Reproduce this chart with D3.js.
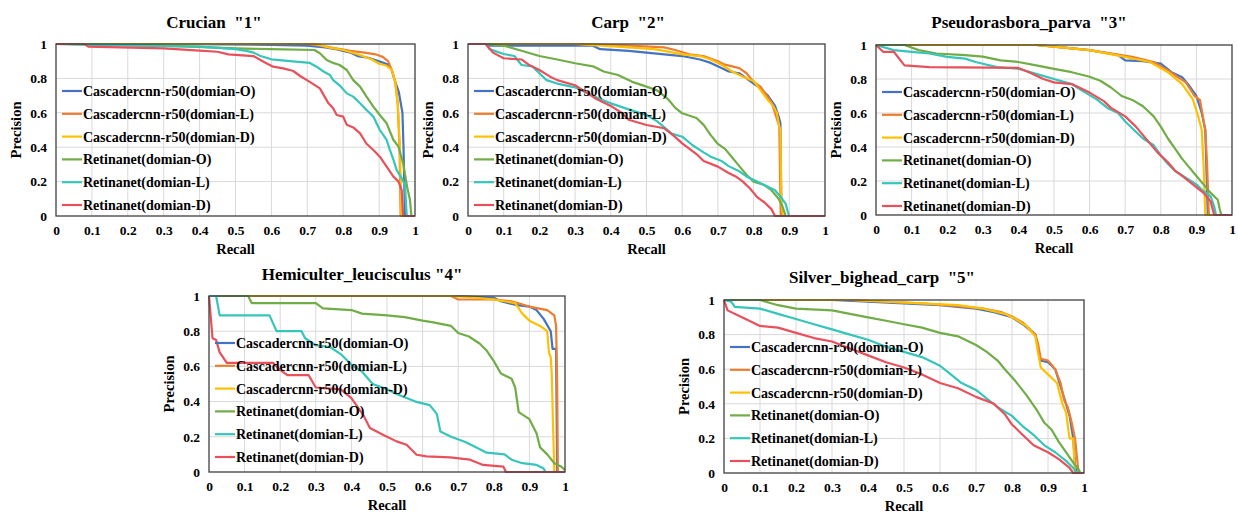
<!DOCTYPE html>
<html>
<head>
<meta charset="utf-8">
<script src="https://cdn.jsdelivr.net/npm/d3@7"></script>
<style>
  body { margin: 0; background: #fff; }
  svg text { font-family: "Liberation Serif", "Times New Roman", serif; font-weight: bold; fill: #000; white-space: pre; }
</style>
</head>
<body>
<div id="chart"></div>
<script>
// ---- data ----
const seriesNames = [
    "Cascadercnn-r50(domian-O)",
    "Cascadercnn-r50(domian-L)",
    "Cascadercnn-r50(domian-D)",
    "Retinanet(domian-O)",
    "Retinanet(domian-L)",
    "Retinanet(domian-D)"
];
const seriesColors = ["#4472c4", "#ed7d31", "#ffc000", "#70ad47", "#36c5b9", "#e8505b"];
const titles = ['Crucian  "1"', 'Carp  "2"', 'Pseudorasbora_parva  "3"', 'Hemiculter_leucisculus "4"', 'Silver_bighead_carp  "5"'];
const xTicks = [0, 0.1, 0.2, 0.3, 0.4, 0.5, 0.6, 0.7, 0.8, 0.9, 1];
const yTicks = [0, 0.2, 0.4, 0.6, 0.8, 1];

// panel 1 - Crucian
const p1_cascO = [[0,1],[0.3,1],[0.6,0.995],[0.7,0.99],[0.75,0.98],[0.78,0.97],[0.8,0.96],[0.82,0.95],[0.84,0.93],[0.87,0.92],[0.9,0.9],[0.925,0.88],[0.935,0.85],[0.945,0.78],[0.955,0.72],[0.965,0.6],[0.968,0.4],[0.972,0],[1,0]];
const p1_cascL = [[0,1],[0.7,1],[0.74,0.99],[0.78,0.975],[0.82,0.96],[0.86,0.95],[0.89,0.94],[0.91,0.925],[0.925,0.9],[0.935,0.85],[0.945,0.78],[0.952,0.65],[0.957,0.4],[0.96,0],[1,0]];
const p1_cascD = [[0,1],[0.72,1],[0.76,0.98],[0.8,0.965],[0.84,0.94],[0.88,0.91],[0.9,0.885],[0.92,0.875],[0.935,0.85],[0.945,0.78],[0.952,0.65],[0.958,0.4],[0.962,0],[1,0]];
const p1_retO = [[0,1],[0.3,0.99],[0.5,0.975],[0.6,0.97],[0.72,0.965],[0.735,0.946],[0.754,0.907],[0.772,0.89],[0.79,0.878],[0.81,0.849],[0.828,0.79],[0.847,0.752],[0.865,0.694],[0.884,0.636],[0.902,0.587],[0.921,0.539],[0.94,0.442],[0.954,0.403],[0.967,0.306],[0.978,0.17],[0.986,0.093],[0.99,0],[1,0]];
const p1_retL = [[0,1],[0.1,0.995],[0.4,0.985],[0.5,0.97],[0.53,0.96],[0.55,0.95],[0.57,0.93],[0.6,0.911],[0.652,0.9],[0.707,0.89],[0.726,0.868],[0.745,0.84],[0.763,0.82],[0.772,0.79],[0.79,0.76],[0.81,0.713],[0.828,0.694],[0.847,0.655],[0.865,0.616],[0.884,0.578],[0.902,0.5],[0.921,0.442],[0.93,0.384],[0.94,0.326],[0.949,0.267],[0.963,0.219],[0.972,0.18],[0.977,0],[1,0]];
const p1_retD = [[0,1],[0.08,1],[0.09,0.985],[0.3,0.975],[0.4,0.961],[0.45,0.955],[0.48,0.94],[0.55,0.93],[0.578,0.897],[0.605,0.868],[0.633,0.858],[0.661,0.843],[0.68,0.814],[0.707,0.78],[0.735,0.742],[0.759,0.655],[0.772,0.626],[0.782,0.587],[0.8,0.578],[0.81,0.53],[0.828,0.515],[0.847,0.48],[0.865,0.42],[0.884,0.384],[0.902,0.345],[0.921,0.287],[0.94,0.229],[0.954,0.2],[0.963,0.151],[0.967,0],[1,0]];

// panel 2 - Carp
const p2_cascO = [[0,1],[0.05,1],[0.06,0.99],[0.35,0.99],[0.37,0.97],[0.45,0.96],[0.5,0.95],[0.55,0.94],[0.6,0.93],[0.65,0.91],[0.68,0.89],[0.71,0.86],[0.73,0.84],[0.76,0.83],[0.78,0.8],[0.8,0.77],[0.82,0.74],[0.84,0.7],[0.86,0.64],[0.87,0.58],[0.875,0.54],[0.878,0],[1,0]];
const p2_cascL = [[0,1],[0.3,1],[0.45,0.99],[0.55,0.98],[0.58,0.965],[0.62,0.94],[0.66,0.93],[0.7,0.9],[0.72,0.88],[0.76,0.86],[0.78,0.83],[0.8,0.78],[0.82,0.75],[0.83,0.72],[0.85,0.66],[0.86,0.6],[0.872,0.52],[0.876,0],[1,0]];
const p2_cascD = [[0,1],[0.3,1],[0.45,0.98],[0.52,0.97],[0.55,0.96],[0.6,0.94],[0.65,0.93],[0.68,0.91],[0.71,0.88],[0.74,0.84],[0.77,0.81],[0.8,0.785],[0.82,0.73],[0.84,0.674],[0.855,0.64],[0.865,0.6],[0.872,0.52],[0.875,0.5],[0.878,0.08],[0.882,0],[1,0]];
const p2_retO = [[0,1],[0.05,1],[0.1,0.99],[0.15,0.961],[0.2,0.93],[0.25,0.91],[0.3,0.888],[0.35,0.87],[0.38,0.84],[0.42,0.82],[0.46,0.78],[0.5,0.752],[0.53,0.73],[0.56,0.68],[0.58,0.63],[0.6,0.597],[0.64,0.57],[0.66,0.53],[0.68,0.47],[0.7,0.419],[0.72,0.39],[0.74,0.34],[0.76,0.29],[0.78,0.24],[0.8,0.2],[0.83,0.18],[0.85,0.15],[0.87,0.1],[0.88,0.06],[0.89,0],[1,0]];
const p2_retL = [[0,1],[0.05,1],[0.06,0.97],[0.1,0.942],[0.13,0.93],[0.15,0.878],[0.18,0.87],[0.2,0.83],[0.22,0.79],[0.25,0.77],[0.3,0.748],[0.33,0.72],[0.37,0.68],[0.4,0.655],[0.45,0.62],[0.5,0.587],[0.53,0.55],[0.57,0.48],[0.6,0.461],[0.63,0.41],[0.66,0.37],[0.68,0.345],[0.71,0.32],[0.73,0.29],[0.76,0.26],[0.78,0.23],[0.81,0.2],[0.83,0.18],[0.86,0.15],[0.88,0.1],[0.89,0.07],[0.895,0.03],[0.9,0],[1,0]];
const p2_retD = [[0,1],[0.05,1],[0.07,0.95],[0.1,0.917],[0.15,0.91],[0.17,0.88],[0.2,0.849],[0.23,0.81],[0.25,0.79],[0.3,0.76],[0.33,0.72],[0.36,0.68],[0.4,0.64],[0.43,0.6],[0.45,0.56],[0.5,0.529],[0.55,0.51],[0.58,0.46],[0.6,0.422],[0.64,0.36],[0.66,0.32],[0.7,0.287],[0.73,0.25],[0.75,0.23],[0.77,0.2],[0.79,0.16],[0.81,0.11],[0.83,0.08],[0.85,0.04],[0.86,0],[1,0]];

// panel 3 - Pseudorasbora_parva
const p3_cascO = [[0,1],[0.45,1],[0.5,0.99],[0.6,0.97],[0.68,0.94],[0.7,0.91],[0.75,0.905],[0.8,0.89],[0.83,0.84],[0.86,0.81],[0.88,0.76],[0.9,0.7],[0.915,0.6],[0.925,0.5],[0.932,0],[1,0]];
const p3_cascL = [[0,1],[0.45,1],[0.5,0.99],[0.6,0.97],[0.72,0.93],[0.78,0.9],[0.82,0.85],[0.87,0.78],[0.895,0.7],[0.91,0.677],[0.925,0.5],[0.93,0.3],[0.935,0],[1,0]];
const p3_cascD = [[0,1],[0.45,1],[0.5,0.99],[0.6,0.97],[0.7,0.93],[0.77,0.9],[0.82,0.84],[0.86,0.77],[0.89,0.68],[0.905,0.58],[0.915,0.5],[0.92,0.3],[0.925,0],[1,0]];
const p3_retO = [[0,1],[0.08,1],[0.12,0.97],[0.17,0.95],[0.25,0.94],[0.3,0.932],[0.35,0.91],[0.4,0.9],[0.45,0.88],[0.5,0.86],[0.55,0.84],[0.6,0.813],[0.63,0.79],[0.66,0.75],[0.69,0.7],[0.72,0.677],[0.75,0.64],[0.78,0.58],[0.8,0.52],[0.82,0.45],[0.84,0.39],[0.86,0.33],[0.88,0.28],[0.9,0.229],[0.92,0.18],[0.94,0.13],[0.96,0.09],[0.965,0.04],[0.97,0],[1,0]];
const p3_retL = [[0,1],[0.05,0.97],[0.1,0.96],[0.15,0.95],[0.2,0.93],[0.25,0.92],[0.28,0.9],[0.3,0.89],[0.34,0.87],[0.4,0.86],[0.45,0.83],[0.5,0.8],[0.55,0.77],[0.58,0.73],[0.62,0.68],[0.65,0.63],[0.68,0.6],[0.7,0.55],[0.73,0.49],[0.75,0.45],[0.78,0.41],[0.8,0.35],[0.82,0.3],[0.84,0.26],[0.87,0.22],[0.9,0.18],[0.92,0.14],[0.94,0.11],[0.95,0.05],[0.955,0],[1,0]];
const p3_retD = [[0,1],[0.02,0.96],[0.05,0.96],[0.08,0.88],[0.15,0.87],[0.4,0.865],[0.43,0.84],[0.47,0.8],[0.5,0.78],[0.55,0.77],[0.6,0.72],[0.64,0.67],[0.66,0.63],[0.7,0.58],[0.73,0.52],[0.75,0.47],[0.77,0.42],[0.79,0.37],[0.82,0.31],[0.84,0.26],[0.86,0.23],[0.89,0.18],[0.92,0.13],[0.94,0.08],[0.95,0],[1,0]];

// panel 4 - Hemiculter_leucisculus
const p4_cascO = [[0,1],[0.7,1],[0.8,0.99],[0.82,0.97],[0.86,0.95],[0.9,0.94],[0.92,0.92],[0.94,0.87],[0.96,0.8],[0.965,0.7],[0.975,0.7],[0.978,0],[1,0]];
const p4_cascL = [[0,1],[0.68,1],[0.7,0.98],[0.8,0.98],[0.85,0.97],[0.9,0.94],[0.95,0.92],[0.97,0.89],[0.975,0.83],[0.978,0.5],[0.98,0],[1,0]];
const p4_cascD = [[0,1],[0.68,1],[0.75,0.99],[0.8,0.98],[0.86,0.96],[0.88,0.9],[0.9,0.86],[0.93,0.83],[0.95,0.8],[0.955,0.68],[0.96,0.65],[0.963,0.55],[0.966,0.3],[0.97,0],[1,0]];
const p4_retO = [[0,1],[0.11,1],[0.12,0.96],[0.3,0.96],[0.32,0.93],[0.4,0.92],[0.43,0.9],[0.5,0.89],[0.55,0.88],[0.6,0.86],[0.63,0.85],[0.68,0.83],[0.7,0.79],[0.73,0.77],[0.76,0.73],[0.78,0.69],[0.8,0.63],[0.82,0.56],[0.85,0.53],[0.86,0.48],[0.87,0.34],[0.9,0.3],[0.92,0.22],[0.93,0.14],[0.95,0.1],[0.97,0.05],[0.99,0.03],[1,0.01]];
const p4_retL = [[0,1],[0.02,1],[0.03,0.89],[0.17,0.89],[0.19,0.8],[0.26,0.8],[0.27,0.76],[0.3,0.72],[0.34,0.71],[0.37,0.67],[0.4,0.61],[0.43,0.57],[0.46,0.5],[0.5,0.47],[0.53,0.44],[0.58,0.4],[0.62,0.38],[0.64,0.33],[0.65,0.23],[0.68,0.2],[0.72,0.17],[0.75,0.14],[0.78,0.11],[0.83,0.1],[0.85,0.07],[0.88,0.05],[0.92,0.04],[0.94,0.02],[0.945,0],[1,0]];
const p4_retD = [[0,1],[0.01,0.76],[0.02,0.75],[0.03,0.68],[0.05,0.62],[0.18,0.62],[0.2,0.58],[0.22,0.55],[0.28,0.55],[0.3,0.48],[0.37,0.47],[0.4,0.42],[0.433,0.325],[0.452,0.25],[0.49,0.21],[0.527,0.174],[0.555,0.155],[0.583,0.098],[0.611,0.089],[0.677,0.083],[0.733,0.07],[0.77,0.04],[0.827,0.03],[0.834,0],[1,0]];

// panel 5 - Silver_bighead_carp
const p5_cascO = [[0,1],[0.3,1],[0.4,0.99],[0.5,0.98],[0.6,0.97],[0.7,0.95],[0.75,0.93],[0.8,0.9],[0.83,0.86],[0.865,0.8],[0.87,0.75],[0.878,0.65],[0.9,0.64],[0.92,0.6],[0.935,0.5],[0.95,0.4],[0.96,0.33],[0.97,0.2],[0.975,0.05],[0.98,0],[1,0]];
const p5_cascL = [[0,1],[0.35,1],[0.45,0.99],[0.55,0.98],[0.65,0.965],[0.72,0.95],[0.77,0.93],[0.8,0.905],[0.83,0.87],[0.865,0.8],[0.872,0.75],[0.88,0.66],[0.9,0.65],[0.92,0.6],[0.935,0.52],[0.945,0.42],[0.955,0.38],[0.965,0.3],[0.975,0.2],[0.985,0],[1,0]];
const p5_cascD = [[0,1],[0.35,1],[0.45,0.99],[0.55,0.98],[0.65,0.97],[0.72,0.95],[0.78,0.92],[0.81,0.89],[0.84,0.85],[0.865,0.79],[0.872,0.7],[0.88,0.61],[0.9,0.57],[0.925,0.52],[0.94,0.4],[0.95,0.35],[0.96,0.2],[0.97,0.2],[0.975,0],[1,0]];
const p5_retO = [[0,1],[0.1,1],[0.15,0.97],[0.2,0.95],[0.3,0.94],[0.35,0.92],[0.4,0.9],[0.45,0.88],[0.5,0.86],[0.55,0.84],[0.6,0.81],[0.65,0.79],[0.7,0.74],[0.73,0.7],[0.76,0.65],[0.78,0.6],[0.81,0.53],[0.84,0.45],[0.87,0.36],[0.89,0.29],[0.91,0.25],[0.93,0.18],[0.95,0.12],[0.97,0.06],[0.985,0.02],[0.99,0],[1,0]];
const p5_retL = [[0,1],[0.02,0.99],[0.03,0.96],[0.1,0.95],[0.15,0.92],[0.2,0.89],[0.25,0.86],[0.3,0.83],[0.35,0.8],[0.4,0.77],[0.45,0.73],[0.5,0.7],[0.55,0.67],[0.6,0.62],[0.63,0.57],[0.66,0.52],[0.7,0.48],[0.73,0.43],[0.76,0.38],[0.8,0.33],[0.83,0.27],[0.86,0.22],[0.89,0.16],[0.92,0.12],[0.95,0.07],[0.97,0.03],[0.98,0],[1,0]];
const p5_retD = [[0,1],[0.01,0.94],[0.05,0.9],[0.1,0.85],[0.15,0.84],[0.2,0.81],[0.25,0.78],[0.3,0.76],[0.35,0.72],[0.4,0.68],[0.45,0.64],[0.5,0.61],[0.55,0.57],[0.6,0.52],[0.65,0.49],[0.7,0.44],[0.75,0.4],[0.78,0.34],[0.8,0.28],[0.83,0.22],[0.86,0.16],[0.9,0.12],[0.93,0.08],[0.96,0.03],[0.97,0],[1,0]];

const panelSeries = [
    [p1_cascO, p1_cascL, p1_cascD, p1_retO, p1_retL, p1_retD],
    [p2_cascO, p2_cascL, p2_cascD, p2_retO, p2_retL, p2_retD],
    [p3_cascO, p3_cascL, p3_cascD, p3_retO, p3_retL, p3_retD],
    [p4_cascO, p4_cascL, p4_cascD, p4_retO, p4_retL, p4_retD],
    [p5_cascO, p5_cascL, p5_cascD, p5_retO, p5_retL, p5_retD]
];

// plot boxes (left, top, right, bottom), title centre and baseline
const layout = [
    {x0: 56,  y0: 44,  x1: 415,  y1: 216, tx: 214,  ty: 28},
    {x0: 468, y0: 44,  x1: 825,  y1: 216, tx: 628,  ty: 28},
    {x0: 876, y0: 45,  x1: 1232, y1: 215, tx: 1029, ty: 28},
    {x0: 209, y0: 296, x1: 565,  y1: 472, tx: 362,  ty: 280},
    {x0: 724, y0: 300, x1: 1084, y1: 473, tx: 882,  ty: 283}
];

const W = 1238, H = 515;
const svg = d3.select("#chart").append("svg")
    .attr("width", W)
    .attr("height", H);

function drawPanel(i) {
    const L = layout[i];
    const x = d3.scaleLinear().domain([0, 1]).range([L.x0, L.x1]);
    const y = d3.scaleLinear().domain([0, 1]).range([L.y1, L.y0]);
    const g = svg.append("g");

    // grid
    g.selectAll(".vg").data(xTicks.slice(1, -1)).join("line")
        .attr("x1", d => x(d)).attr("x2", d => x(d))
        .attr("y1", L.y0).attr("y2", L.y1)
        .attr("stroke", "#d9d9d9").attr("stroke-width", 1);
    g.selectAll(".hg").data(yTicks.slice(1, -1)).join("line")
        .attr("x1", L.x0).attr("x2", L.x1)
        .attr("y1", d => y(d)).attr("y2", d => y(d))
        .attr("stroke", "#d9d9d9").attr("stroke-width", 1);

    // axes (labels only)
    const fmt = d => String(+d.toFixed(1));
    const xa = g.append("g").attr("transform", `translate(0,${L.y1})`)
        .call(d3.axisBottom(x).tickValues(xTicks).tickFormat(fmt).tickSize(0).tickPadding(9));
    const ya = g.append("g").attr("transform", `translate(${L.x0},0)`)
        .call(d3.axisLeft(y).tickValues(yTicks).tickFormat(fmt).tickSize(0).tickPadding(9));
    [xa, ya].forEach(a => {
        a.select(".domain").remove();
        a.selectAll("text").attr("font-size", "13.5px").attr("font-family", null).attr("fill", "#000");
    });

    // curves
    const line = d3.line().x(d => x(d[0])).y(d => y(d[1]));
    panelSeries[i].forEach((s, k) => {
        g.append("path").datum(s)
            .attr("d", line)
            .attr("fill", "none")
            .attr("stroke", seriesColors[k])
            .attr("stroke-width", 2.2)
            .attr("stroke-linejoin", "round");
    });

    // border
    g.append("rect")
        .attr("x", L.x0).attr("y", L.y0)
        .attr("width", L.x1 - L.x0).attr("height", L.y1 - L.y0)
        .attr("fill", "none").attr("stroke", "#404040").attr("stroke-width", 1.3);

    // legend
    const lg = g.append("g");
    seriesNames.forEach((name, k) => {
        const ly = L.y0 + 47 + k * 22.8;
        lg.append("line")
            .attr("x1", L.x0 + 6).attr("x2", L.x0 + 26)
            .attr("y1", ly).attr("y2", ly)
            .attr("stroke", seriesColors[k]).attr("stroke-width", 2.2);
        lg.append("text")
            .attr("x", L.x0 + 27).attr("y", ly + 5)
            .attr("font-size", "14px")
            .text(name);
    });

    // titles
    g.append("text")
        .attr("x", L.tx).attr("y", L.ty)
        .attr("text-anchor", "middle")
        .attr("font-size", "17px")
        .text(titles[i]);
    g.append("text")
        .attr("x", (L.x0 + L.x1) / 2).attr("y", L.y1 + 38)
        .attr("text-anchor", "middle")
        .attr("font-size", "14.5px")
        .text("Recall");
    g.append("text")
        .attr("transform", `translate(${L.x0 - 35},${(L.y0 + L.y1) / 2}) rotate(-90)`)
        .attr("text-anchor", "middle")
        .attr("font-size", "14.5px")
        .text("Precision");
}

for (let i = 0; i < layout.length; i++) drawPanel(i);
</script>
</body>
</html>
